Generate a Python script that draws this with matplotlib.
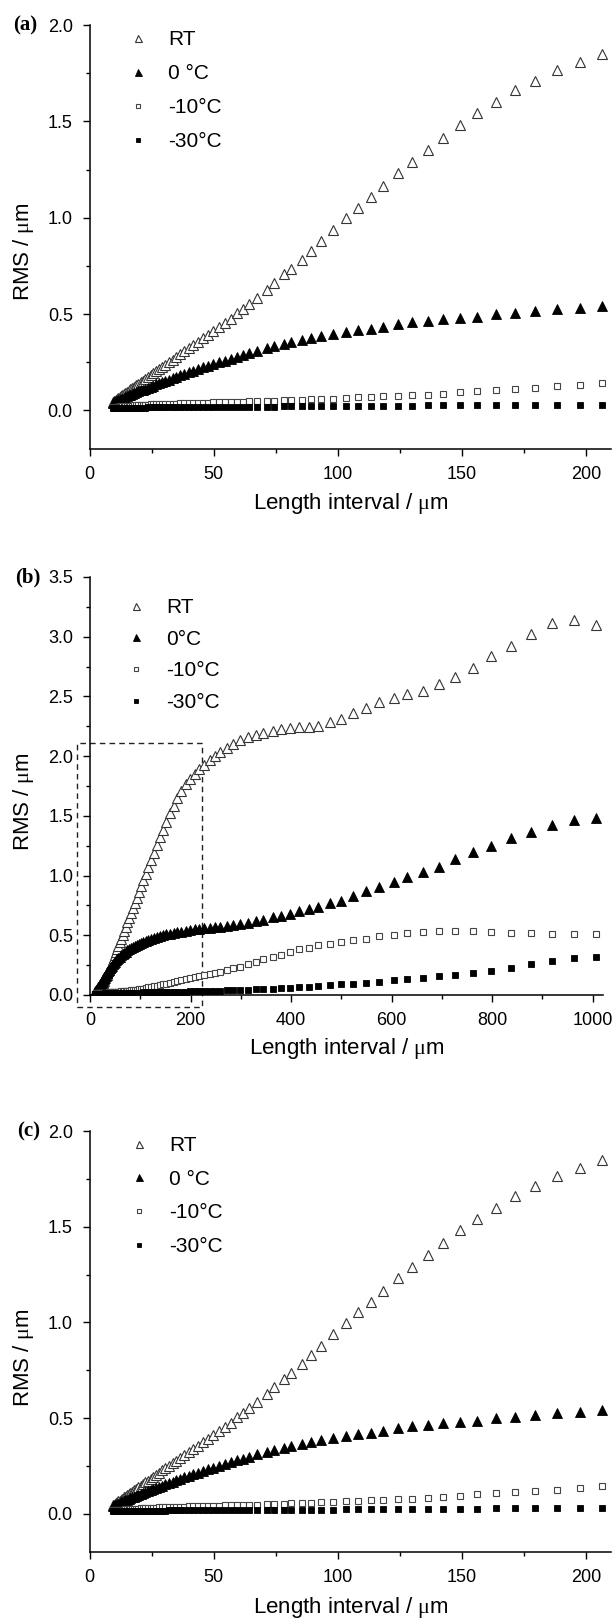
import matplotlib
matplotlib.use("Agg")
import matplotlib.pyplot as plt
from matplotlib.patches import Rectangle
from matplotlib.ticker import MultipleLocator, FormatStrFormatter

plt.rcParams["font.family"] = ["Liberation Sans", "DejaVu Sans"]
plt.rcParams["mathtext.fontset"] = "custom"
plt.rcParams["mathtext.rm"] = "Liberation Serif"

# ---- panels (a) and (c): length interval up to ~210 um ----
x_short = [9.3, 9.7, 10.1, 10.6, 11.1, 11.6, 12.1, 12.6, 13.2, 13.8,
           14.4, 15.1, 15.8, 16.5, 17.2, 18.0, 18.8, 19.7, 20.6, 21.5,
           22.5, 23.5, 24.6, 25.7, 26.8, 28.0, 29.3, 30.6, 32.0, 33.5,
           35.0, 36.6, 38.2, 39.9, 41.7, 43.6, 45.6, 47.6, 49.8, 52.0,
           54.4, 56.8, 59.4, 61.7, 64.3, 67.6, 71.3, 74.4, 78.5, 81.1,
           85.4, 89.3, 93.3, 98.2, 103.2, 108.0, 113.2, 118.2, 124.3, 130.0,
           136.4, 142.3, 149.3, 156.1, 163.5, 171.5, 179.5, 188.4, 197.4, 206.4]
rt_short = [0.044, 0.047, 0.051, 0.056, 0.060, 0.065, 0.069, 0.074, 0.079, 0.085,
            0.090, 0.096, 0.103, 0.109, 0.116, 0.123, 0.130, 0.138, 0.147, 0.155,
            0.164, 0.173, 0.183, 0.193, 0.203, 0.214, 0.226, 0.238, 0.250, 0.264,
            0.278, 0.292, 0.307, 0.322, 0.339, 0.356, 0.374, 0.392, 0.412, 0.432,
            0.454, 0.476, 0.505, 0.527, 0.551, 0.582, 0.627, 0.660, 0.706, 0.734,
            0.782, 0.829, 0.877, 0.937, 0.997, 1.053, 1.106, 1.164, 1.230, 1.290,
            1.354, 1.414, 1.482, 1.542, 1.600, 1.661, 1.711, 1.764, 1.809, 1.850]
c0_short = [0.040, 0.042, 0.044, 0.047, 0.050, 0.053, 0.056, 0.059, 0.062, 0.066,
            0.070, 0.074, 0.078, 0.082, 0.086, 0.090, 0.094, 0.099, 0.104, 0.108,
            0.113, 0.118, 0.124, 0.129, 0.135, 0.141, 0.147, 0.153, 0.160, 0.167,
            0.175, 0.182, 0.190, 0.198, 0.206, 0.214, 0.223, 0.232, 0.241, 0.250,
            0.259, 0.269, 0.279, 0.288, 0.298, 0.310, 0.322, 0.332, 0.344, 0.353,
            0.365, 0.375, 0.387, 0.398, 0.406, 0.415, 0.424, 0.433, 0.448, 0.458,
            0.466, 0.473, 0.481, 0.487, 0.498, 0.508, 0.517, 0.525, 0.531, 0.540]
c10_short = [0.018, 0.018, 0.019, 0.019, 0.020, 0.020, 0.021, 0.021, 0.022, 0.022,
             0.023, 0.024, 0.024, 0.025, 0.025, 0.026, 0.027, 0.027, 0.028, 0.029,
             0.029, 0.030, 0.031, 0.031, 0.032, 0.033, 0.033, 0.034, 0.035, 0.035,
             0.036, 0.037, 0.037, 0.038, 0.039, 0.039, 0.040, 0.041, 0.042, 0.042,
             0.043, 0.044, 0.045, 0.046, 0.047, 0.048, 0.050, 0.051, 0.053, 0.054,
             0.056, 0.058, 0.060, 0.062, 0.065, 0.068, 0.070, 0.073, 0.076, 0.079,
             0.082, 0.086, 0.094, 0.102, 0.107, 0.112, 0.119, 0.125, 0.133, 0.145]
c30_short = [0.013, 0.013, 0.013, 0.013, 0.013, 0.013, 0.014, 0.014, 0.014, 0.014,
             0.014, 0.014, 0.014, 0.014, 0.015, 0.015, 0.015, 0.015, 0.015, 0.015,
             0.015, 0.016, 0.016, 0.016, 0.016, 0.016, 0.016, 0.016, 0.017, 0.017,
             0.017, 0.017, 0.017, 0.017, 0.017, 0.018, 0.018, 0.018, 0.018, 0.018,
             0.018, 0.018, 0.019, 0.019, 0.019, 0.020, 0.020, 0.020, 0.021, 0.021,
             0.021, 0.022, 0.022, 0.022, 0.023, 0.023, 0.024, 0.024, 0.025, 0.025,
             0.026, 0.026, 0.027, 0.027, 0.028, 0.028, 0.029, 0.029, 0.030, 0.030]

# ---- panel (b): length interval up to ~1000 um ----
x_long = [9.8, 10.3, 10.7, 11.2, 11.8, 12.3, 12.9, 13.4, 14.1, 14.7,
          15.4, 16.1, 16.8, 17.6, 18.4, 19.3, 20.1, 21.1, 22.0, 23.0,
          24.1, 25.2, 26.3, 27.6, 28.8, 30.1, 31.5, 33.0, 34.5, 36.1,
          37.7, 39.5, 41.3, 43.2, 45.2, 47.3, 49.4, 51.7, 54.1, 56.5,
          59.1, 61.9, 64.7, 67.7, 70.8, 74.0, 77.4, 81.0, 84.7, 88.6,
          92.7, 97.0, 101.4, 106.1, 111.0, 116.1, 121.4, 127.0, 132.8, 138.9,
          145.3, 152.0, 159.0, 166.3, 173.9, 181.9, 190.3, 199.0, 208.2, 216.8,
          226.1, 237.8, 248.0, 259.5, 272.8, 285.3, 298.5, 314.1, 329.8, 344.6,
          363.2, 380.4, 397.5, 415.4, 434.8, 454.3, 477.7, 500.3, 523.8, 549.5,
          575.1, 604.0, 631.3, 662.5, 693.5, 726.4, 762.2, 798.8, 837.8, 876.6,
          919.6, 962.4, 1006.7]
rt_long = [0.025, 0.027, 0.029, 0.031, 0.033, 0.035, 0.037, 0.039, 0.041, 0.043,
           0.045, 0.048, 0.051, 0.054, 0.057, 0.061, 0.065, 0.071, 0.077, 0.084,
           0.092, 0.101, 0.110, 0.121, 0.131, 0.142, 0.155, 0.168, 0.182, 0.197,
           0.212, 0.230, 0.248, 0.268, 0.289, 0.311, 0.334, 0.358, 0.384, 0.411,
           0.440, 0.472, 0.504, 0.538, 0.572, 0.608, 0.645, 0.685, 0.726, 0.769,
           0.815, 0.862, 0.911, 0.963, 1.017, 1.073, 1.131, 1.192, 1.255, 1.320,
           1.385, 1.452, 1.520, 1.585, 1.648, 1.708, 1.765, 1.812, 1.851, 1.890,
           1.926, 1.969, 2.005, 2.038, 2.072, 2.102, 2.136, 2.158, 2.178, 2.192,
           2.211, 2.225, 2.233, 2.242, 2.247, 2.256, 2.284, 2.312, 2.359, 2.406,
           2.454, 2.490, 2.521, 2.549, 2.602, 2.661, 2.736, 2.839, 2.923, 3.021,
           3.113, 3.141, 3.099]
c0_long = [0.020, 0.022, 0.025, 0.028, 0.031, 0.034, 0.038, 0.041, 0.046, 0.050,
           0.055, 0.060, 0.065, 0.071, 0.077, 0.083, 0.089, 0.096, 0.103, 0.110,
           0.118, 0.126, 0.134, 0.143, 0.152, 0.161, 0.171, 0.181, 0.191, 0.202,
           0.212, 0.223, 0.234, 0.245, 0.256, 0.267, 0.278, 0.289, 0.300, 0.311,
           0.322, 0.333, 0.343, 0.353, 0.363, 0.373, 0.383, 0.393, 0.402, 0.412,
           0.421, 0.430, 0.438, 0.447, 0.455, 0.463, 0.471, 0.478, 0.486, 0.493,
           0.500, 0.507, 0.513, 0.519, 0.525, 0.531, 0.537, 0.543, 0.549, 0.554,
           0.558, 0.563, 0.566, 0.569, 0.576, 0.584, 0.595, 0.606, 0.616, 0.630,
           0.650, 0.663, 0.680, 0.702, 0.722, 0.740, 0.767, 0.791, 0.826, 0.867,
           0.905, 0.945, 0.985, 1.027, 1.075, 1.136, 1.200, 1.248, 1.312, 1.362,
           1.424, 1.466, 1.480]
c10_long = [0.012, 0.012, 0.012, 0.012, 0.013, 0.013, 0.013, 0.013, 0.013, 0.014,
            0.014, 0.014, 0.014, 0.014, 0.015, 0.015, 0.015, 0.015, 0.016, 0.016,
            0.016, 0.017, 0.017, 0.017, 0.018, 0.018, 0.019, 0.019, 0.020, 0.020,
            0.021, 0.021, 0.022, 0.023, 0.023, 0.024, 0.025, 0.026, 0.027, 0.028,
            0.029, 0.030, 0.031, 0.032, 0.034, 0.035, 0.037, 0.038, 0.040, 0.042,
            0.044, 0.047, 0.050, 0.054, 0.058, 0.063, 0.068, 0.073, 0.078, 0.083,
            0.088, 0.094, 0.100, 0.107, 0.114, 0.122, 0.131, 0.141, 0.151, 0.161,
            0.171, 0.180, 0.187, 0.195, 0.209, 0.224, 0.237, 0.260, 0.279, 0.299,
            0.321, 0.335, 0.363, 0.383, 0.396, 0.419, 0.430, 0.443, 0.458, 0.473,
            0.493, 0.505, 0.520, 0.525, 0.536, 0.539, 0.536, 0.528, 0.522, 0.517,
            0.508, 0.508, 0.508]
c30_long = [0.010, 0.010, 0.010, 0.010, 0.010, 0.010, 0.010, 0.010, 0.011, 0.011,
            0.011, 0.011, 0.011, 0.011, 0.011, 0.011, 0.011, 0.012, 0.012, 0.012,
            0.012, 0.012, 0.012, 0.012, 0.012, 0.013, 0.013, 0.013, 0.013, 0.013,
            0.013, 0.014, 0.014, 0.014, 0.014, 0.015, 0.015, 0.015, 0.015, 0.015,
            0.016, 0.016, 0.016, 0.017, 0.017, 0.017, 0.018, 0.018, 0.018, 0.019,
            0.019, 0.020, 0.020, 0.021, 0.021, 0.022, 0.022, 0.023, 0.023, 0.024,
            0.025, 0.025, 0.026, 0.026, 0.027, 0.028, 0.029, 0.030, 0.031, 0.032,
            0.033, 0.034, 0.035, 0.036, 0.038, 0.040, 0.042, 0.044, 0.047, 0.050,
            0.054, 0.058, 0.061, 0.066, 0.071, 0.078, 0.083, 0.088, 0.095, 0.100,
            0.109, 0.123, 0.130, 0.145, 0.159, 0.167, 0.181, 0.204, 0.223, 0.257,
            0.288, 0.313, 0.321]

labels_ac = ["RT", "0 \u00b0C", "-10\u00b0C", "-30\u00b0C"]
labels_b = ["RT", "0\u00b0C", "-10\u00b0C", "-30\u00b0C"]

W, H = 614, 1620
fig = plt.figure(figsize=(W / 100, H / 100), dpi=100)


def px_axes(left, top, right, bottom):
    # axes rectangle given in image pixels (origin top-left)
    return fig.add_axes([left / W, 1 - bottom / H, (right - left) / W, (bottom - top) / H])


def draw_panel(ax, x, rt, c0, c10, c30, labels):
    ax.plot(x, rt, ls="none", marker="^", ms=7.0, mfc="white", mec="#333333",
            mew=0.8, label=labels[0])
    ax.plot(x, c0, ls="none", marker="^", ms=7.0, mfc="black", mec="black",
            mew=0.6, label=labels[1])
    ax.plot(x, c10, ls="none", marker="s", ms=5.0, mfc="white", mec="#444444",
            mew=0.8, label=labels[2])
    ax.plot(x, c30, ls="none", marker="s", ms=5.0, mfc="black", mec="black",
            mew=0.6, label=labels[3])
    for side in ["top", "right"]:
        ax.spines[side].set_visible(False)
    for side in ["left", "bottom"]:
        ax.spines[side].set_linewidth(1.1)
    ax.tick_params(which="major", direction="out", length=5, width=1.0, pad=7,
                   labelsize=13)
    ax.tick_params(which="minor", direction="out", length=3, width=1.0)
    ax.yaxis.set_major_formatter(FormatStrFormatter("%.1f"))
    ax.yaxis.set_major_locator(MultipleLocator(0.5))
    ax.yaxis.set_minor_locator(MultipleLocator(0.25))
    ax.set_ylabel("RMS / $\\mathrm{\\mu}$m", fontsize=16)
    ax.set_xlabel("Length interval / $\\mathrm{\\mu}$m", fontsize=16)


def add_legend(ax, anchor, spacing):
    ax.legend(loc="upper left", bbox_to_anchor=anchor, frameon=False,
              fontsize=15, markerscale=0.72, handlelength=1.0, handletextpad=0.95,
              labelspacing=spacing, borderpad=0, borderaxespad=0)


# (a)
ax_a = px_axes(89.5, 25, 611, 449)
draw_panel(ax_a, x_short, rt_short, c0_short, c10_short, c30_short, labels_ac)
ax_a.set_xlim(0, 210)
ax_a.set_ylim(-0.2, 2.0)
ax_a.xaxis.set_major_locator(MultipleLocator(50))
ax_a.xaxis.set_minor_locator(MultipleLocator(25))
ax_a.yaxis.set_label_coords(-0.103, 0.465)
ax_a.xaxis.set_label_coords(0.5, -0.098)
add_legend(ax_a, (0.073, 0.988), 0.72)

# (b)
ax_b = px_axes(90, 577, 602.6, 995)
draw_panel(ax_b, x_long, rt_long, c0_long, c10_long, c30_long, labels_b)
ax_b.set_xlim(0, 1020)
ax_b.set_ylim(0, 3.5)
ax_b.xaxis.set_major_locator(MultipleLocator(200))
ax_b.xaxis.set_minor_locator(MultipleLocator(100))
ax_b.yaxis.set_label_coords(-0.105, 0.464)
ax_b.xaxis.set_label_coords(0.5, -0.099)
add_legend(ax_b, (0.0695, 0.950), 0.61)
# dashed box marking the zoomed region shown in (c)
ax_b.add_patch(Rectangle((-26, -0.10), 249, 2.21, fill=False, ls=(0, (4, 3)),
                         lw=1.0, ec="#222222", clip_on=False))

# (c)
ax_c = px_axes(89.5, 1131, 611, 1552)
draw_panel(ax_c, x_short, rt_short, c0_short, c10_short, c30_short, labels_ac)
ax_c.set_xlim(0, 210)
ax_c.set_ylim(-0.2, 2.0)
ax_c.xaxis.set_major_locator(MultipleLocator(50))
ax_c.xaxis.set_minor_locator(MultipleLocator(25))
ax_c.yaxis.set_label_coords(-0.103, 0.463)
ax_c.xaxis.set_label_coords(0.5, -0.101)
add_legend(ax_c, (0.075, 0.988), 0.70)

# panel letters
for letter, xp, yp in [("(a)", 25, 25), ("(b)", 28, 577), ("(c)", 29, 1131)]:
    fig.text(xp / W, 1 - yp / H, letter, ha="center", va="center", fontsize=15,
             fontweight="bold", family="Liberation Serif")

fig.savefig("out.png", dpi=100)
